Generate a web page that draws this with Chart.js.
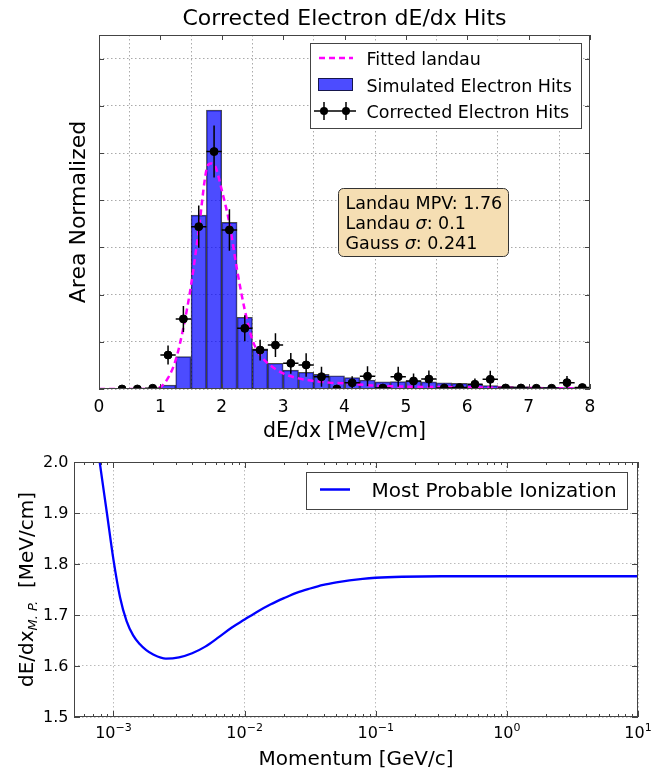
<!DOCTYPE html>
<html>
<head>
<meta charset="utf-8">
<title>Electron dE/dx</title>
<script src="https://cdn.jsdelivr.net/npm/chart.js@4.4.1/dist/chart.umd.min.js"></script>
<style>
  html, body { margin: 0; padding: 0; background: #fff; }
  #wrap { position: relative; width: 672px; height: 769px; }
  #hist { position: absolute; left: 0; top: 0; }
  #mpv { position: absolute; left: 0; top: 440px; }
</style>
</head>
<body>
<div id="wrap">
  <canvas id="hist" width="672" height="440"></canvas>
  <canvas id="mpv" width="672" height="329"></canvas>
</div>
<script>
const FONT = '"DejaVu Sans", sans-serif';

// ---- histogram: dE/dx bins, 0.25 MeV/cm wide ----
const binCenters = [0.125, 0.375, 0.625, 0.875, 1.125, 1.375, 1.625, 1.875,
                    2.125, 2.375, 2.625, 2.875, 3.125, 3.375, 3.625, 3.875,
                    4.125, 4.375, 4.625, 4.875, 5.125, 5.375, 5.625, 5.875,
                    6.125, 6.375, 6.625, 6.875, 7.125, 7.375, 7.625, 7.875];
const simHits = [0, 0, 0, 0.002, 0.017, 0.137, 0.737, 1.182,
                 0.706, 0.304, 0.170, 0.109, 0.080, 0.071, 0.062, 0.056,
                 0.048, 0.038, 0.030, 0.031, 0.034, 0.030, 0.026, 0.024,
                 0.020, 0.014, 0.011, 0.010, 0.008, 0.007, 0.006, 0.005];

// corrected hits with errors
const corrX = [0.375, 0.625, 0.875, 1.125, 1.375, 1.625, 1.875,
               2.125, 2.375, 2.625, 2.875, 3.125, 3.375, 3.625, 3.875,
               4.125, 4.375, 4.625, 4.875, 5.125, 5.375, 5.625, 5.875,
               6.125, 6.375, 6.625, 6.875, 7.125, 7.375, 7.625, 7.875];
const corrHits = [0, 0, 0.003, 0.144, 0.297, 0.688, 1.006,
                  0.674, 0.257, 0.165, 0.186, 0.109, 0.102, 0.052, 0,
                  0.026, 0.054, 0.004, 0.052, 0.034, 0.042, 0.004, 0.006,
                  0.020, 0.041, 0.004, 0.004, 0.003, 0.003, 0.027, 0.006];
const corrErr = [0, 0, 0, 0.040, 0.055, 0.090, 0.110,
                 0.088, 0.055, 0.044, 0.050, 0.044, 0.050, 0.042, 0,
                 0.028, 0.042, 0, 0.042, 0.032, 0.036, 0, 0,
                 0.025, 0.036, 0, 0, 0, 0, 0.028, 0];
const binHalfWidth = 0.125;

// landau fit curve
const landauX = [0, 0.5, 0.9, 1.0, 1.125, 1.25, 1.375, 1.5, 1.625, 1.75, 1.82, 1.9,
                 2.0, 2.125, 2.25, 2.375, 2.5, 2.625, 2.75, 3.0, 3.25, 3.5, 3.75,
                 4.0, 4.5, 5.0, 6.0, 7.0, 8.0];
const landauY = [0, 0, 0.002, 0.008, 0.047, 0.123, 0.26, 0.44, 0.674, 0.928, 0.956, 0.94,
                 0.843, 0.702, 0.504, 0.335, 0.208, 0.144, 0.109, 0.066, 0.045, 0.034, 0.027,
                 0.024, 0.014, 0.010, 0.007, 0.004, 0.003];

const landauMpv = 1.76;
const landauSigma = 0.1;
const gaussSigma = 0.241;

const histXTicks = [0, 1, 2, 3, 4, 5, 6, 7, 8];
const histYTicks = [0, 0.2, 0.4, 0.6, 0.8, 1.0, 1.2, 1.4];

// ---- most probable dE/dx vs momentum ----
const momentum = [7.41e-4, 7.85e-4, 8.91e-4, 1.0e-3, 1.122e-3, 1.259e-3, 1.413e-3, 1.585e-3,
                  1.778e-3, 1.995e-3, 2.512e-3, 3.162e-3, 3.981e-3, 5.012e-3, 6.310e-3,
                  7.943e-3, 1.0e-2, 1.259e-2, 1.585e-2, 1.995e-2, 2.512e-2, 3.162e-2,
                  3.981e-2, 5.012e-2, 6.310e-2, 7.943e-2, 0.1, 0.1585, 0.3162, 1, 10];
const mpvDedx = [2.05, 2.0, 1.90, 1.808, 1.735, 1.688, 1.660, 1.643,
                 1.631, 1.623, 1.6145, 1.617, 1.625, 1.638, 1.656,
                 1.675, 1.691, 1.707, 1.721, 1.733, 1.744, 1.752,
                 1.759, 1.764, 1.768, 1.771, 1.773, 1.775, 1.776, 1.776, 1.776];

const mpvXTicks = [1e-3, 1e-2, 1e-1, 1, 10];
const mpvXExp = ['\u22123', '\u22122', '\u22121', '0', '1'];
const mpvYTicks = [1.5, 1.6, 1.7, 1.8, 1.9, 2.0];


// draw a row of differently styled text pieces
const drawRuns = (ctx, runs, x, y, align) => {
    let total = 0;
    runs.forEach(r => { ctx.font = r.font; r.w = ctx.measureText(r.text).width; total += r.w; });
    let cx = align === 'center' ? x - total / 2 : (align === 'right' ? x - total : x);
    ctx.textAlign = 'left';
    runs.forEach(r => {
        ctx.font = r.font;
        ctx.fillText(r.text, cx, y + (r.dy || 0));
        cx += r.w;
    });
};

const frame = (ctx, a) => {
    ctx.strokeStyle = '#444';
    ctx.lineWidth = 1;
    ctx.setLineDash([]);
    ctx.strokeRect(a.left + 0.5, a.top + 0.5, a.right - a.left - 1, a.bottom - a.top - 1);
};

const dotted = { display: false, dash: [1.5, 2.5] };

//////////////////////
// Histogram chart  //
//////////////////////
const histDecor = {
    id: 'histDecor',
    beforeDatasetDraw(chart, args) {
        if (args.index !== 2) return;   // error bars sit under the markers
        const {ctx, chartArea: a, scales: {x, y}} = chart;
        ctx.save();
        ctx.beginPath();
        ctx.rect(a.left, a.top, a.right - a.left, a.bottom - a.top);
        ctx.clip();
        ctx.strokeStyle = '#000';
        ctx.lineWidth = 1.5;
        ctx.beginPath();
        corrX.forEach((cx, i) => {
            const px = x.getPixelForValue(cx);
            const py = y.getPixelForValue(corrHits[i]);
            ctx.moveTo(x.getPixelForValue(cx - binHalfWidth), py);
            ctx.lineTo(x.getPixelForValue(cx + binHalfWidth), py);
            if (corrErr[i] > 0) {
                ctx.moveTo(px, y.getPixelForValue(corrHits[i] - corrErr[i]));
                ctx.lineTo(px, y.getPixelForValue(corrHits[i] + corrErr[i]));
            }
        });
        ctx.stroke();
        ctx.restore();
    },
    afterDraw(chart) {
        const {ctx, chartArea: a, scales: {x, y}} = chart;
        ctx.save();
        frame(ctx, a);

        // inward ticks on all four sides
        ctx.beginPath();
        histXTicks.forEach(v => {
            const px = Math.round(x.getPixelForValue(v)) + 0.5;
            ctx.moveTo(px, a.bottom); ctx.lineTo(px, a.bottom - 5);
            ctx.moveTo(px, a.top); ctx.lineTo(px, a.top + 5);
        });
        histYTicks.forEach(v => {
            const py = Math.round(y.getPixelForValue(v)) + 0.5;
            ctx.moveTo(a.left, py); ctx.lineTo(a.left + 5, py);
            ctx.moveTo(a.right, py); ctx.lineTo(a.right - 5, py);
        });
        ctx.stroke();

        ctx.fillStyle = '#000';
        ctx.textBaseline = 'alphabetic';
        ctx.textAlign = 'center';
        ctx.font = `17px ${FONT}`;
        histXTicks.forEach(v => ctx.fillText(String(v), x.getPixelForValue(v), 411.5));

        const midX = (a.left + a.right) / 2;
        ctx.font = `20.5px ${FONT}`;
        ctx.fillText('dE/dx [MeV/cm]', midX, 437);
        ctx.font = `22px ${FONT}`;
        ctx.fillText('Corrected Electron dE/dx Hits', midX, 25);

        ctx.save();
        ctx.translate(85, (a.top + a.bottom) / 2);
        ctx.rotate(-Math.PI / 2);
        ctx.font = `22px ${FONT}`;
        ctx.fillText('Area Normalized', 0, 0);
        ctx.restore();

        // legend
        ctx.fillStyle = '#fff';
        ctx.fillRect(310.5, 43.5, 271, 85);
        ctx.strokeStyle = '#444';
        ctx.lineWidth = 1;
        ctx.strokeRect(310.5, 43.5, 271, 85);

        ctx.strokeStyle = '#ff00ff';
        ctx.lineWidth = 2.5;
        ctx.setLineDash([6, 4]);
        ctx.beginPath(); ctx.moveTo(319, 58); ctx.lineTo(353, 58); ctx.stroke();
        ctx.setLineDash([]);

        ctx.fillStyle = 'rgba(0,0,255,0.7)';
        ctx.fillRect(318, 78, 35, 13);
        ctx.strokeStyle = 'rgba(0,0,0,0.7)';
        ctx.lineWidth = 1;
        ctx.strokeRect(318.5, 78.5, 34, 12);

        ctx.strokeStyle = '#000';
        ctx.lineWidth = 1.5;
        ctx.beginPath();
        ctx.moveTo(314, 111); ctx.lineTo(356, 111);
        [324, 346].forEach(mx => { ctx.moveTo(mx, 102); ctx.lineTo(mx, 120); });
        ctx.stroke();
        ctx.fillStyle = '#000';
        [324, 346].forEach(mx => { ctx.beginPath(); ctx.arc(mx, 111, 4, 0, Math.PI * 2); ctx.fill(); });

        ctx.textAlign = 'left';
        ctx.font = `17.5px ${FONT}`;
        ctx.fillText('Fitted landau', 366.5, 65);
        ctx.fillText('Simulated Electron Hits', 366.5, 91.5);
        ctx.fillText('Corrected Electron Hits', 366.5, 117.5);

        // fit result box
        ctx.fillStyle = '#f5deb3';
        ctx.strokeStyle = '#333';
        ctx.lineWidth = 1;
        ctx.beginPath();
        ctx.roundRect(338.5, 188.5, 170, 68, 5);
        ctx.fill();
        ctx.stroke();
        ctx.fillStyle = '#000';
        const f = `17.5px ${FONT}`, fi = `italic 17.5px ${FONT}`;
        drawRuns(ctx, [{text: `Landau MPV: ${landauMpv}`, font: f}], 345.5, 209, 'left');
        drawRuns(ctx, [{text: 'Landau ', font: f}, {text: '\u03c3', font: fi}, {text: `: ${landauSigma}`, font: f}], 345.5, 228.5, 'left');
        drawRuns(ctx, [{text: 'Gauss ', font: f}, {text: '\u03c3', font: fi}, {text: `: ${gaussSigma}`, font: f}], 345.5, 248.5, 'left');
        ctx.restore();
    }
};

new Chart('hist', {
    type: 'bar',
    data: {
        datasets: [
            {
                type: 'line',
                label: 'Fitted landau',
                data: landauX.map((v, i) => ({x: v, y: landauY[i]})),
                borderColor: '#ff00ff',
                borderWidth: 2.5,
                borderDash: [6, 4],
                pointRadius: 0,
                cubicInterpolationMode: 'monotone',
                order: 1
            },
            {
                label: 'Simulated Electron Hits',
                data: binCenters.map((v, i) => ({x: v, y: simHits[i]})),
                backgroundColor: 'rgba(0,0,255,0.7)',
                borderColor: 'rgba(0,0,0,0.7)',
                borderWidth: 1,
                barPercentage: 1,
                categoryPercentage: 1,
                order: 2
            },
            {
                type: 'scatter',
                label: 'Corrected Electron Hits',
                data: corrX.map((v, i) => ({x: v, y: corrHits[i]})),
                backgroundColor: '#000',
                borderColor: '#000',
                pointRadius: 4,
                order: 0
            }
        ]
    },
    options: {
        responsive: false,
        animation: false,
        layout: {padding: {left: 0, right: 82, top: 35, bottom: 0}},
        plugins: {legend: {display: false}, tooltip: {enabled: false}},
        scales: {
            x: {
                type: 'linear', min: 0, max: 8, offset: false,
                afterBuildTicks: s => { s.ticks = histXTicks.map(v => ({value: v})); },
                afterFit: s => { s.height = 51; },
                ticks: {display: false},
                grid: {color: '#aaa', drawTicks: false},
                border: dotted
            },
            y: {
                min: 0, max: 1.5,
                afterBuildTicks: s => { s.ticks = histYTicks.map(v => ({value: v})); },
                afterFit: s => { s.width = 99; },
                ticks: {display: false},
                grid: {color: '#aaa', drawTicks: false},
                border: dotted
            }
        }
    },
    plugins: [histDecor]
});

////////////////////////
// MPV vs momentum    //
////////////////////////
const mpvDecor = {
    id: 'mpvDecor',
    afterDraw(chart) {
        const {ctx, chartArea: a, scales: {x, y}} = chart;
        ctx.save();
        frame(ctx, a);

        ctx.beginPath();
        mpvXTicks.forEach(v => {
            const px = Math.round(x.getPixelForValue(v)) + 0.5;
            ctx.moveTo(px, a.bottom); ctx.lineTo(px, a.bottom - 6);
            ctx.moveTo(px, a.top); ctx.lineTo(px, a.top + 6);
        });
        for (let d = -4; d <= 0; d++) {
            for (let m = 2; m <= 9; m++) {
                const v = m * Math.pow(10, d);
                if (v < x.min || v > x.max) continue;
                const px = Math.round(x.getPixelForValue(v)) + 0.5;
                ctx.moveTo(px, a.bottom); ctx.lineTo(px, a.bottom - 3);
                ctx.moveTo(px, a.top); ctx.lineTo(px, a.top + 3);
            }
        }
        mpvYTicks.forEach(v => {
            const py = Math.round(y.getPixelForValue(v)) + 0.5;
            ctx.moveTo(a.left, py); ctx.lineTo(a.left + 6, py);
            ctx.moveTo(a.right, py); ctx.lineTo(a.right - 6, py);
        });
        ctx.stroke();

        ctx.fillStyle = '#000';
        ctx.textBaseline = 'middle';
        ctx.textAlign = 'right';
        ctx.font = `16px ${FONT}`;
        mpvYTicks.forEach(v => ctx.fillText(v.toFixed(1), 68.5, y.getPixelForValue(v) + 1));

        ctx.textBaseline = 'alphabetic';
        mpvXTicks.forEach((v, i) => {
            drawRuns(ctx, [
                {text: '10', font: `16px ${FONT}`},
                {text: mpvXExp[i], font: `11px ${FONT}`, dy: -7}
            ], x.getPixelForValue(v), 298, 'center');
        });

        const midX = (a.left + a.right) / 2;
        ctx.textAlign = 'center';
        ctx.font = `20px ${FONT}`;
        ctx.fillText('Momentum [GeV/c]', midX, 325);

        ctx.save();
        ctx.translate(33, (a.top + a.bottom) / 2);
        ctx.rotate(-Math.PI / 2);
        drawRuns(ctx, [
            {text: 'dE/dx', font: `20px ${FONT}`},
            {text: 'M. P.', font: `italic 13px ${FONT}`, dy: 4},
            {text: '  [MeV/cm]', font: `20px ${FONT}`}
        ], 0, 0, 'center');
        ctx.restore();

        // legend
        ctx.fillStyle = '#fff';
        ctx.fillRect(306.5, 32.5, 321, 37);
        ctx.strokeStyle = '#444';
        ctx.lineWidth = 1;
        ctx.strokeRect(306.5, 32.5, 321, 37);
        ctx.strokeStyle = '#0000ff';
        ctx.lineWidth = 2.5;
        ctx.beginPath(); ctx.moveTo(320, 49.5); ctx.lineTo(350, 49.5); ctx.stroke();
        ctx.fillStyle = '#000';
        ctx.textAlign = 'left';
        ctx.font = `20px ${FONT}`;
        ctx.fillText('Most Probable Ionization', 371.5, 57);
        ctx.restore();
    }
};

new Chart('mpv', {
    type: 'line',
    data: {
        datasets: [{
            label: 'Most Probable Ionization',
            data: momentum.map((p, i) => ({x: p, y: mpvDedx[i]})),
            borderColor: '#0000ff',
            borderWidth: 2.3,
            pointRadius: 0,
            cubicInterpolationMode: 'monotone',
            clip: 0
        }]
    },
    options: {
        responsive: false,
        animation: false,
        layout: {padding: {left: 0, right: 34, top: 22, bottom: 0}},
        plugins: {legend: {display: false}, tooltip: {enabled: false}},
        scales: {
            x: {
                type: 'logarithmic', min: 5e-4, max: 10,
                afterBuildTicks: s => { s.ticks = mpvXTicks.map(v => ({value: v})); },
                afterFit: s => { s.height = 52; },
                ticks: {display: false},
                grid: {color: '#bbb', drawTicks: false},
                border: dotted
            },
            y: {
                min: 1.5, max: 2.0,
                afterBuildTicks: s => { s.ticks = mpvYTicks.map(v => ({value: v})); },
                afterFit: s => { s.width = 74; },
                ticks: {display: false},
                grid: {color: '#bbb', drawTicks: false},
                border: dotted
            }
        }
    },
    plugins: [mpvDecor]
});
</script>
</body>
</html>
